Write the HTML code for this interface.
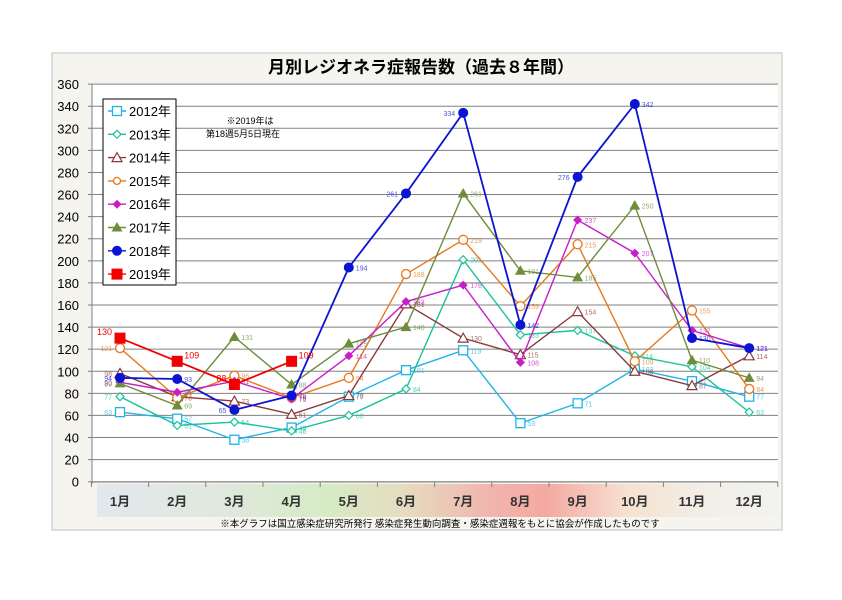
<!DOCTYPE html>
<html><head><meta charset="utf-8"><style>
body{margin:0;background:#fff;width:842px;height:595px;overflow:hidden;font-family:"Liberation Sans","Noto Sans CJK JP",sans-serif}
</style></head><body>
<svg id="s" width="842" height="595" xmlns="http://www.w3.org/2000/svg" font-family="Liberation Sans, Noto Sans CJK JP, sans-serif">
<defs>
<linearGradient id="band" x1="0" x2="1" y1="0" y2="0">
<stop offset="0" stop-color="#e3e8ee"/>
<stop offset="0.2" stop-color="#dfe8dc"/>
<stop offset="0.33" stop-color="#d6ebc6"/>
<stop offset="0.45" stop-color="#e6dcc0"/>
<stop offset="0.58" stop-color="#f2b4ad"/>
<stop offset="0.66" stop-color="#f4a9a2"/>
<stop offset="0.78" stop-color="#f6e2d2"/>
<stop offset="0.9" stop-color="#f2efe8"/>
<stop offset="1" stop-color="#f3f2ee"/>
</linearGradient>
</defs>
<rect x="52" y="53" width="730" height="477" fill="#f5f4ef" stroke="#d4d4d0" stroke-width="1.5"/>
<rect x="92" y="84" width="686" height="398" fill="#fff"/>
<rect x="97" y="484" width="681" height="33" fill="url(#band)"/>
<text x="421" y="73" text-anchor="middle" font-size="17" font-weight="bold">月別レジオネラ症報告数（過去８年間）</text>
<g id="g"></g>
<text x="440" y="527" text-anchor="middle" font-size="9.5">※本グラフは国立感染症研究所発行 感染症発生動向調査・感染症週報をもとに協会が作成したものです</text>
</svg>
<script>
const g=document.getElementById('g');let h='';
const Y=v=>481.7-v*1.1044, X=i=>120+57.2*i;
for(let v=0;v<=360;v+=20){const y=Y(v);h+=`<line x1="88" x2="778" y1="${y}" y2="${y}" stroke="#808080" stroke-width="1"/>`;h+=`<text x="79" y="${y+5}" text-anchor="end" font-size="13">${v}</text>`;}
h+=`<line x1="92" x2="92" y1="84" y2="484" stroke="#808080"/><line x1="92" x2="778" y1="482" y2="482" stroke="#808080"/>`;
for(let i=0;i<=12;i++){const x=91.4+57.2*i;h+=`<line x1="${x}" x2="${x}" y1="482" y2="487" stroke="#808080"/>`;}
for(let i=0;i<12;i++)h+=`<text x="${X(i)}" y="506" text-anchor="middle" font-size="13" font-weight="bold" fill="#333">${i+1}月</text>`;
const S=[
["2012年","#1fb4e6","sq",[63,57,38,49,77,101,119,53,71,102,91,77]],
["2013年","#19c39a","di",[77,51,54,46,60,84,201,133,137,114,104,63]],
["2014年","#8b3a3a","tr",[98,77,73,61,78,161,130,115,154,100,87,114]],
["2015年","#e8781e","ci",[121,76,96,76,94,188,219,159,215,109,155,84]],
["2016年","#c81ec8","fd",[90,81,91,75,114,163,178,108,237,207,137,121]],
["2017年","#6e8c3a","ft",[89,69,131,88,125,140,261,191,185,250,110,94]],
["2018年","#0a14d2","fc",[94,93,65,78,194,261,334,142,276,342,130,121]],
["2019年","#f00000","fs",[130,109,88,109]]];
function mk(t,c,x,y){
 if(t=="sq")return `<rect x="${x-4.5}" y="${y-4.5}" width="9" height="9" fill="#fff" stroke="${c}" stroke-width="1.3"/>`;
 if(t=="di")return `<polygon points="${x},${y-4} ${x+4},${y} ${x},${y+4} ${x-4},${y}" fill="#fff" stroke="${c}" stroke-width="1.2"/>`;
 if(t=="tr")return `<polygon points="${x},${y-5} ${x+5},${y+4} ${x-5},${y+4}" fill="#fff" stroke="${c}" stroke-width="1.2"/>`;
 if(t=="ci")return `<circle cx="${x}" cy="${y}" r="4.5" fill="#fff" stroke="${c}" stroke-width="1.3"/>`;
 if(t=="fd")return `<polygon points="${x},${y-4.5} ${x+4.5},${y} ${x},${y+4.5} ${x-4.5},${y}" fill="${c}"/>`;
 if(t=="ft")return `<polygon points="${x},${y-5.5} ${x+5.5},${y+4} ${x-5.5},${y+4}" fill="${c}"/>`;
 if(t=="fc")return `<circle cx="${x}" cy="${y}" r="5" fill="${c}"/>`;
 if(t=="fs")return `<rect x="${x-5.5}" y="${y-5.5}" width="11" height="11" fill="${c}"/>`;
}
S.forEach(([n,c,t,d],k)=>{
 const pts=d.map((v,i)=>X(i)+','+Y(v)).join(' ');
 h+=`<polyline points="${pts}" fill="none" stroke="${c}" stroke-width="${k>=6?1.8:1.4}"/>`;
 d.forEach((v,i)=>{h+=mk(t,c,X(i),Y(v));
  const big=k==7;const left=(i==0&&k!=7)||(k==6&&[0,2,5,6,8].includes(i))||(k==7&&i==0||k==7&&i==2);
  h+=`<text x="${left?X(i)-8:X(i)+7}" y="${Y(v)+(big?-3:3)}" text-anchor="${left?'end':'start'}" font-size="${big?9:7}" fill="${c}" opacity="${big?1:0.75}">${v}</text>`;});
});
h+=`<rect x="103" y="99" width="73" height="186" fill="#fff" stroke="#000" stroke-width="1"/>`;
S.forEach(([n,c,t],k)=>{const y=111+k*23.3;h+=`<line x1="108" x2="126" y1="${y}" y2="${y}" stroke="${c}" stroke-width="1.4"/>`+mk(t,c,117,y).replace(/4\.5|5\.5/g,'3.5')+`<text x="129" y="${y+5}" font-size="13">${n}</text>`;});
h+=`<text x="250" y="124" text-anchor="middle" font-size="9">※2019年は</text><text x="243" y="137" text-anchor="middle" font-size="9">第18週5月5日現在</text>`;
g.innerHTML=h;
</script>
</body></html>
